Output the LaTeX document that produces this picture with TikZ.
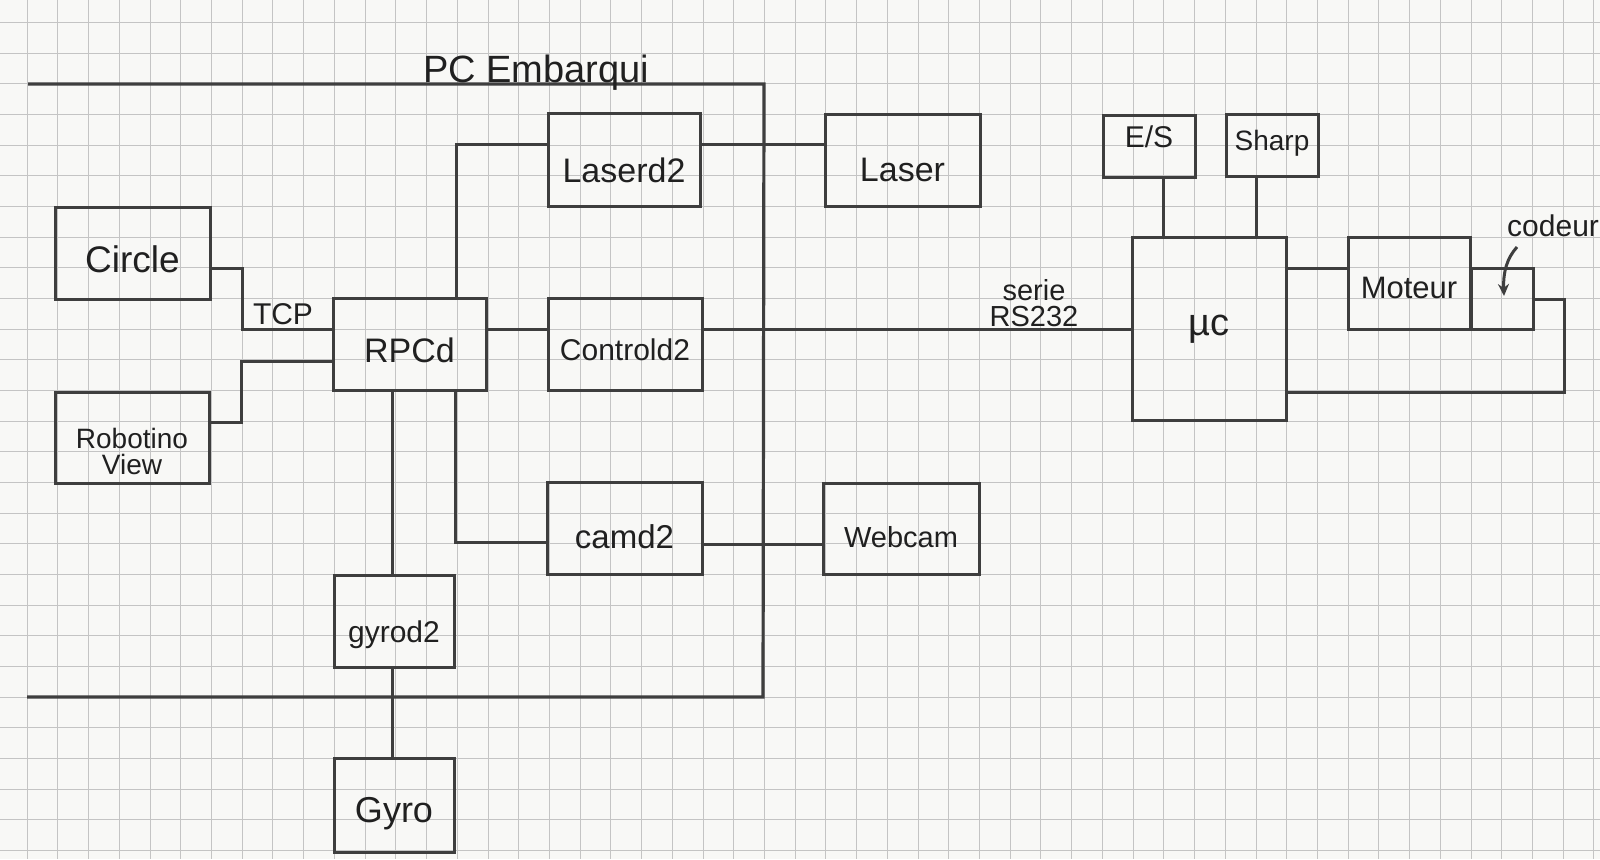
\documentclass[tikz,border=0pt]{standalone}
\usepackage{fontspec}
\setmainfont{Liberation Sans}
\usetikzlibrary{arrows.meta}
\definecolor{ink}{HTML}{3E3E3E}
\definecolor{txt}{HTML}{202020}
\definecolor{gridc}{HTML}{C4C4C4}
\definecolor{paper}{HTML}{F8F8F6}
\begin{document}
\begin{tikzpicture}[x=1pt,y=-1pt,
  box/.style={draw=ink, line width=3pt, inner sep=0pt, text=txt, align=center, text depth=0pt},
  wire/.style={draw=ink, line width=3pt},
  lbl/.style={text=txt, inner sep=0pt, align=center},
  fs/.style={font=\fontsize{#1}{#1}\selectfont}]
% paper and grid
\fill[paper] (0,0) rectangle (1600,859);
\useasboundingbox (0,0) rectangle (1600,859);
\foreach \k in {0,...,51} \draw[gridc, line width=1.2pt] ({round(26.7+30.72*\k)+0.5},0) -- ++(0,859);
\foreach \k in {0,...,27} \draw[gridc, line width=1.2pt] (0,{round(22+30.67*\k)+0.5}) -- ++(1600,0);

% PC Embarqui frame
\draw[wire, line width=3.2pt] (28,84) -- (764,84) -- (763,697) -- (27,697);
\node[lbl, fs=38, anchor=base] (pclbl) at (536,82) {PC Embarqui};

% boxes
\node[box, minimum width=152pt, minimum height=93pt, fs=34, text height=45pt] (laserd2) at (624,159.5) {Laserd2};
\node[box, minimum width=155pt, minimum height=92pt, fs=34, text height=42pt] (laser) at (902.5,160) {Laser};
\node[box, minimum width=155pt, minimum height=92pt, fs=37, text height=38pt] (circle) at (132.5,253) {Circle};
\node[box, minimum width=153pt, minimum height=92pt, fs=34, text height=36pt] (rpcd) at (409.5,344) {RPCd};
\node[box, minimum width=154pt, minimum height=92pt, fs=30, text height=32pt] (controld2) at (625,344) {Controld2};
\node[box, minimum width=154pt, minimum height=91pt, text height=74pt, font=\fontsize{28}{26}\selectfont] (robotino) at (132,437.5) {Robotino\\View};
\node[box, minimum width=155pt, minimum height=92pt, fs=33, text height=40pt] (camd2) at (624.5,528) {camd2};
\node[box, minimum width=156pt, minimum height=91pt, fs=29, text height=37pt] (webcam) at (901,528.5) {Webcam};
\node[box, minimum width=120pt, minimum height=92pt, fs=30, text height=42pt] (gyrod2) at (394,621) {gyrod2};
\node[box, minimum width=120pt, minimum height=94pt, fs=36, text height=34pt] (gyro) at (394,805) {Gyro};
\node[box, minimum width=92pt, minimum height=62pt, fs=30, text height=2pt] (es) at (1149,146) {E/S};
\node[box, minimum width=92pt, minimum height=62pt, fs=28, text height=10pt] (sharp) at (1272,145) {Sharp};
\node[box, minimum width=154pt, minimum height=183pt, fs=38, text height=13pt] (muc) at (1209,328.5) {µc};
\node[box, minimum width=122pt, minimum height=92pt, fs=31, text height=30pt] (moteur) at (1409,283) {Moteur};
\node[box, minimum width=62pt, minimum height=61pt] (codeurbox) at (1502,298.5) {};

% labels
\node[lbl, fs=30] (tcp) at (283,314) {TCP};
\node[lbl, font=\fontsize{29}{26}\selectfont] (serie) at (1034,303) {serie\\RS232};
\node[lbl, fs=30, anchor=west] (codeur) at (1507,226) {codeur};

% connectors
\draw[wire] (circle.east |- 0,268) -- ++(31,0) |- (rpcd.west |- 0,329);
\draw[wire] (robotino.east |- 0,422) -- ++(31,0) |- (rpcd.west |- 0,361);
\draw[wire] (rpcd.north -| 456,0) |- (laserd2.west |- 0,144);
\draw[wire] (rpcd.east |- 0,329) -- (controld2.west |- 0,329);
\draw[wire] (rpcd.south -| 455,0) |- (camd2.west |- 0,542);
\draw[wire] (rpcd.south -| 392,0) -- (gyrod2.north -| 392,0);
\draw[wire] (gyrod2.south -| 392,0) -- (gyro.north -| 392,0);
\draw[wire] (laserd2.east |- 0,144) -- (laser.west |- 0,144);
\draw[wire] (controld2.east |- 0,329) -- (muc.west |- 0,329);
\draw[wire] (camd2.east |- 0,544) -- (webcam.west |- 0,544);
\draw[wire] (es.south -| 1163,0) -- (muc.north -| 1163,0);
\draw[wire] (sharp.south -| 1256,0) -- (muc.north -| 1256,0);
\draw[wire] (muc.east |- 0,268) -- (moteur.west |- 0,268);
\draw[wire] (codeurbox.east |- 0,299) -- ++(30,0) |- (muc.east |- 0,392);
\coordinate (cdstart) at (1517,247);
\coordinate (cdtip) at (1504,296);
\draw[wire, -{Stealth[length=12pt,width=11pt]}] (cdstart) .. controls (1507,258) and (1503,272) .. (cdtip);
\end{tikzpicture}
\end{document}
